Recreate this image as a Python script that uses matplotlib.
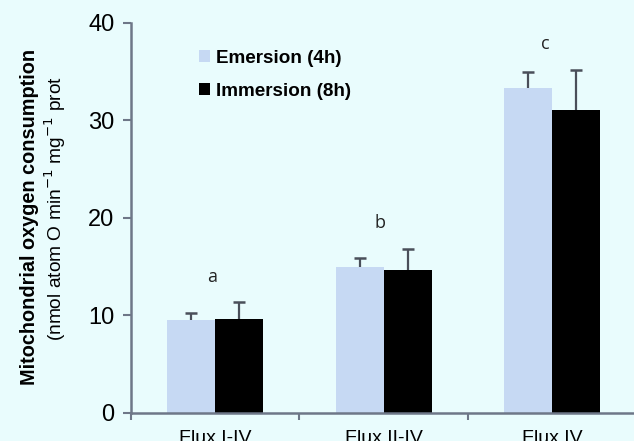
import matplotlib
matplotlib.use("Agg")
import matplotlib.pyplot as plt
import numpy as np

categories = ["Flux I-IV", "Flux II-IV", "Flux IV"]
emersion = [9.5, 15.0, 33.3]
emersion_err = [0.8, 0.9, 1.7]
immersion = [9.6, 14.7, 31.1]
immersion_err = [1.75, 2.1, 4.1]
letters = ["a", "b", "c"]
letter_y = [13.9, 19.5, 37.8]
series_names = ["Emersion (4h)", "Immersion (8h)"]

bg = "#e9fcfd"
light = "#c6d9f3"
axcol = "#6e7788"
errcol = "#4a4f5a"

plt.rcParams['font.family'] = ['Liberation Sans', 'DejaVu Sans']

fig = plt.figure(figsize=(6.34, 4.41), dpi=100, facecolor=bg)
ax = fig.add_axes([0.2066, 0.0635, 0.797, 0.8845], facecolor=bg)

x = np.arange(len(categories))
w = 0.285
for off, vals, errs, col, name in [(-w/2, emersion, emersion_err, light, series_names[0]),
                                   (w/2, immersion, immersion_err, "black", series_names[1])]:
    pos = x + off
    ax.bar(pos, vals, w, color=col, label=name, zorder=2)
    ax.errorbar(pos, vals, yerr=[np.zeros(3), errs], fmt="none", ecolor=errcol,
                elinewidth=1.6, capsize=0, zorder=3)
    ax.plot(pos, np.array(vals) + np.array(errs), linestyle="none", marker="_",
            markersize=8, markeredgewidth=1.8, color=errcol, zorder=3)

for xi, (lt, ly) in enumerate(zip(letters, letter_y)):
    ax.text(xi - (0.04 if xi == 2 else 0.02), ly, lt, ha="center", va="center",
            fontsize=13, family=["Open Sans", "DejaVu Sans"], color="#222222")

ax.set_xlim(-0.5, 2.5)
ax.set_ylim(0, 40)
ax.set_yticks([0, 10, 20, 30, 40])
ax.tick_params(axis="y", direction="out", length=6, width=1.5, color=axcol,
               labelsize=17, pad=6)
ax.set_xticks(x)
ax.set_xticklabels(categories)
ax.tick_params(axis="x", length=0, labelsize=14, pad=12.5)
ax.set_xticks([-0.5, 0.5, 1.5], minor=True)
ax.tick_params(axis="x", which="minor", direction="out", length=5, width=1.5, color=axcol)

for s in ["top", "right"]:
    ax.spines[s].set_visible(False)
for s in ["left", "bottom"]:
    ax.spines[s].set_color(axcol)
    ax.spines[s].set_linewidth(1.8)

fig.text(0.047, 0.508, "Mitochondrial oxygen consumption", rotation=90,
         ha="center", va="center", fontsize=14.3, fontweight="bold")
fig.text(0.087, 0.528, "(nmol atom O min$^{-1}$ mg$^{-1}$ prot", rotation=90,
         ha="center", va="center", fontsize=13.8)

leg = ax.legend(loc="upper left", bbox_to_anchor=(0.1, 0.975), frameon=False,
                prop=dict(size=13.6, weight="bold"), handlelength=0.6,
                handleheight=0.6, handletextpad=0.3, labelspacing=0.85)

fig.savefig("out.png", dpi=100, facecolor=bg)
